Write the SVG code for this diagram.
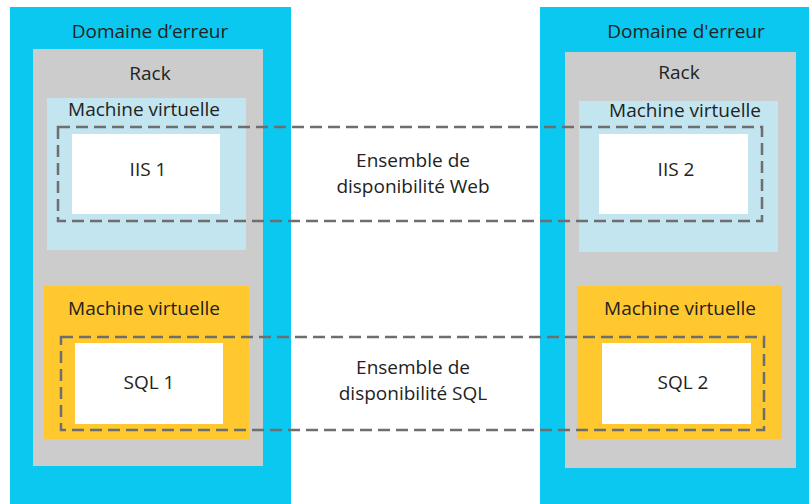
<svg xmlns="http://www.w3.org/2000/svg" width="809" height="504" viewBox="0 0 809 504">
<style>
.fd{fill:#0AC8F0}
.rk{fill:#CCCCCC}
.vmb{fill:#C2E5F0}
.vmy{fill:#FFC82E}
.srv{fill:#FFFFFF}
text{font-family:"Open Sans","Noto Sans","DejaVu Sans",sans-serif;font-size:19px;fill:#222222;text-anchor:middle}
.set{fill:none;stroke:#6E6E6E;stroke-width:2.5;stroke-dasharray:12 6}
</style>
<rect width="809" height="504" fill="#FFFFFF"/>
<g id="domaine1">
<rect class="fd" x="10" y="7" width="281" height="497"/>
<text x="150" y="38">Domaine d’erreur</text>
</g>
<g id="rack1">
<rect class="rk" x="33" y="49" width="230" height="417"/>
<text x="150" y="80">Rack</text>
</g>
<g id="vm-web1">
<rect class="vmb" x="47" y="98" width="199" height="152"/>
<text x="144" y="116">Machine virtuelle</text>
</g>
<g id="iis1">
<rect class="srv" x="72" y="134" width="148" height="80"/>
<text x="148" y="176">IIS 1</text>
</g>
<g id="vm-sql1">
<rect class="vmy" x="44" y="286" width="205" height="153"/>
<text x="144" y="315">Machine virtuelle</text>
</g>
<g id="sql1">
<rect class="srv" x="75" y="343" width="148" height="81"/>
<text x="149" y="389">SQL 1</text>
</g>
<g id="domaine2">
<rect class="fd" x="540" y="7" width="269" height="497"/>
<text x="686" y="38">Domaine d'erreur</text>
</g>
<g id="rack2">
<rect class="rk" x="565" y="52" width="231" height="416"/>
<text x="679" y="79">Rack</text>
</g>
<g id="vm-web2">
<rect class="vmb" x="579" y="101" width="199" height="151"/>
<text x="685" y="117">Machine virtuelle</text>
</g>
<g id="iis2">
<rect class="srv" x="599" y="134" width="149" height="80"/>
<text x="676" y="176">IIS 2</text>
</g>
<g id="vm-sql2">
<rect class="vmy" x="577" y="286" width="205" height="153"/>
<text x="680" y="315">Machine virtuelle</text>
</g>
<g id="sql2">
<rect class="srv" x="602" y="343" width="149" height="81"/>
<text x="683" y="389">SQL 2</text>
</g>
<g id="ensembles">
<rect id="set-web" class="set" x="58" y="127" width="704" height="94"/>
<rect id="set-sql" class="set" x="61" y="337" width="703" height="93"/>
</g>
<g id="labels">
<text x="413" y="167">Ensemble de</text>
<text x="413" y="193">disponibilité Web</text>
<text x="413" y="374">Ensemble de</text>
<text x="413" y="400">disponibilité SQL</text>
</g>
</svg>
